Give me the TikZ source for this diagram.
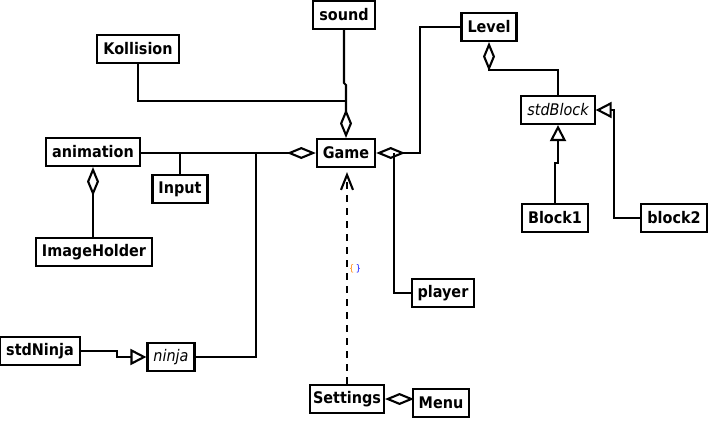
\documentclass[tikz,border=0pt]{standalone}
\usepackage{fontspec}
\setmainfont{DejaVu Sans Condensed}
\usetikzlibrary{arrows.meta}

\begin{document}
\begin{tikzpicture}[x=1pt,y=-1pt,line width=2.1pt,
    cls/.style={draw,fill=white,minimum height=28pt,inner xsep=6pt,inner ysep=0pt,
      font=\fontsize{16}{18}\selectfont\bfseries},
    abstr/.style={cls,font=\fontsize{16}{18}\selectfont\itshape},
    aggr/.style={{Diamond[open,length=29pt,width=12pt]}-},
    gen/.style={-{Triangle[open,length=16pt,width=16pt]}},
    dep/.style={dash pattern=on 7pt off 6pt,-{Straight Barb[length=15pt,width=12pt]}}]
    \useasboundingbox (0,0) rectangle (711,420);
    % Classes
    \node[cls] (sound) at (344,15) {sound};
    \node[cls] (kollision) at (138,49) {Kollision};
    \node[cls] (level) at (489,27) {Level};
    \node[cls] (animation) at (93,152) {animation};
    \node[cls] (game) at (346,153) {Game};
    \node[cls] (input) at (180,189) {Input};
    \node[abstr] (stdblock) at (558,110) {stdBlock};
    \node[cls] (block1) at (555,218) {Block1};
    \node[cls] (block2) at (674,218) {block2};
    \node[cls] (imageholder) at (94,252) {ImageHolder};
    \node[cls] (player) at (443,293) {player};
    \node[cls] (stdninja) at (40,351) {stdNinja};
    \node[abstr] (ninja) at (171,357) {ninja};
    \node[cls,inner xsep=3pt] (settings) at (347,399) {Settings};
    \node[cls] (menu) at (441,403) {Menu};
    % Pontos de junção
    \coordinate (kj) at (346,101);
    \coordinate (nj) at (256,153);
    \coordinate (pj) at (394,153);
    % Agregação em Game
    \draw[aggr] (game.north) -- (346,85) -- (344,83) -- (sound.south);
    \draw (kollision.south) |- (kj);
    \draw[aggr] (game.west) -- (animation.east |- game.west);
    \draw (input.north) -- (input.north |- game.west);
    \draw (ninja.east) -| (nj);
    \draw[aggr] (game.east) -- ++(44,0) |- (level.west);
    \draw (pj) |- (player.west);
    % Agregação em Level e animation
    \draw[aggr] (level.south) -- ++(0,28) -| (stdblock.north);
    \draw[aggr] (animation.south) -- (animation.south |- imageholder.north);
    % Herança
    \draw[gen] (block1.north) -- ++(0,-40) -| (stdblock.south);
    \draw[gen] (block2.west) -- ++(-26,0) |- (stdblock.east);
    \draw[gen] (stdninja.east) -- ++(36,0) |- (ninja.west);
    % Dependência Settings -> Game
    \draw[dep,shorten >=4pt] (settings.north) -- (settings.north |- game.south);
    \node[font=\fontsize{9}{10}\selectfont] (deplabel) at (355,269)
      {\textcolor{orange}{\{}\,\textcolor{blue}{\}}};
    % Settings e Menu
    \draw[aggr] (settings.east) -- (menu.west |- settings.east);
\end{tikzpicture}
\end{document}
